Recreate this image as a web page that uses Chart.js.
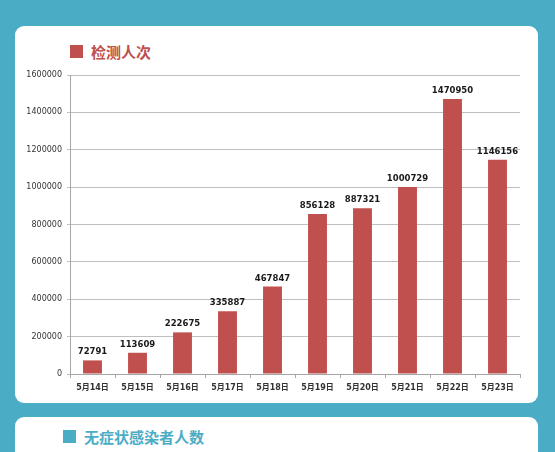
<!DOCTYPE html>
<html lang="zh-CN">
<head>
  <meta charset="UTF-8" />
  <title>检测人次</title>
  <script src="https://cdn.jsdelivr.net/npm/chart.js"></script>
  <style>
    html, body { margin: 0; padding: 0; }
    body { width: 555px; height: 452px; background: #4BACC6; position: relative; overflow: hidden; }
    .card { position: absolute; left: 15px; width: 523px; background: #fff; border-radius: 9px; }
    .titulo { position: absolute; font-family: "Noto Sans CJK SC", sans-serif; font-weight: 700; font-size: 15px; line-height: 15px; }
    .quad { position: absolute; width: 13px; height: 13px; }
  </style>
</head>
<body>
  <div class="card" style="top:26px;height:377px;"></div>
  <div class="card" style="top:417px;height:60px;"></div>

  <div class="quad" style="left:70px;top:45px;background:#C0504D;"></div>
  <div class="titulo" style="left:91px;top:44px;color:#C0504D;">检测人次</div>

  <div class="quad" style="left:63px;top:430px;background:#4BACC6;"></div>
  <div class="titulo" style="left:84px;top:429px;color:#4BACC6;">无症状感染者人数</div>

  <div style="position:absolute;left:16px;top:62px;width:522px;height:340px;">
    <canvas id="grafico"></canvas>
  </div>

  <script>
    // dados
    const categorias = ['5月14日', '5月15日', '5月16日', '5月17日', '5月18日', '5月19日', '5月20日', '5月21日', '5月22日', '5月23日'];
    const valores = [72791, 113609, 222675, 335887, 467847, 856128, 887321, 1000729, 1470950, 1146156];
    const yMax = 1600000;
    const yPasso = 200000;

    // rótulos em cima das barras
    const rotulos = {
      id: 'rotulos',
      afterDatasetsDraw(chart) {
        const ctx = chart.ctx;
        const meta = chart.getDatasetMeta(0);
        ctx.save();
        ctx.font = 'bold 8.5px "DejaVu Sans"';
        ctx.fillStyle = '#1a1a1a';
        ctx.textAlign = 'center';
        ctx.textBaseline = 'bottom';
        meta.data.forEach((bar, i) => {
          ctx.fillText(String(valores[i]), bar.x, bar.y - 4);
        });
        ctx.restore();
      }
    };

    new Chart(document.getElementById('grafico'), {
      type: 'bar',
      data: {
        labels: categorias,
        datasets: [{
          data: valores,
          backgroundColor: '#C0504D',
          borderWidth: 0,
          categoryPercentage: 1,
          barPercentage: 0.42
        }]
      },
      options: {
        responsive: true,
        maintainAspectRatio: false,
        animation: false,
        layout: { padding: { top: 13, right: 18, left: 0, bottom: 0 } },
        plugins: { legend: { display: false }, tooltip: { enabled: false } },
        scales: {
          x: {
            afterFit: s => { s.height = 28; },
            grid: { offset: true, drawOnChartArea: false, drawTicks: true, tickLength: 4, color: '#A6A6A6' },
            border: { color: '#A6A6A6' },
            ticks: { color: '#333', font: { family: '"DejaVu Sans", "Noto Sans CJK SC"', size: 8, weight: 'bold' }, padding: 5, maxRotation: 0 }
          },
          y: {
            min: 0,
            max: yMax,
            afterFit: s => { s.width = 54; },
            grid: { color: '#BFBFBF', tickLength: 3 },
            border: { color: '#A6A6A6' },
            ticks: {
              stepSize: yPasso, color: '#333', padding: 5,
              font: { family: '"DejaVu Sans"', size: 8 },
              callback: v => String(v)
            }
          }
        }
      },
      plugins: [rotulos]
    });
  </script>
</body>
</html>
